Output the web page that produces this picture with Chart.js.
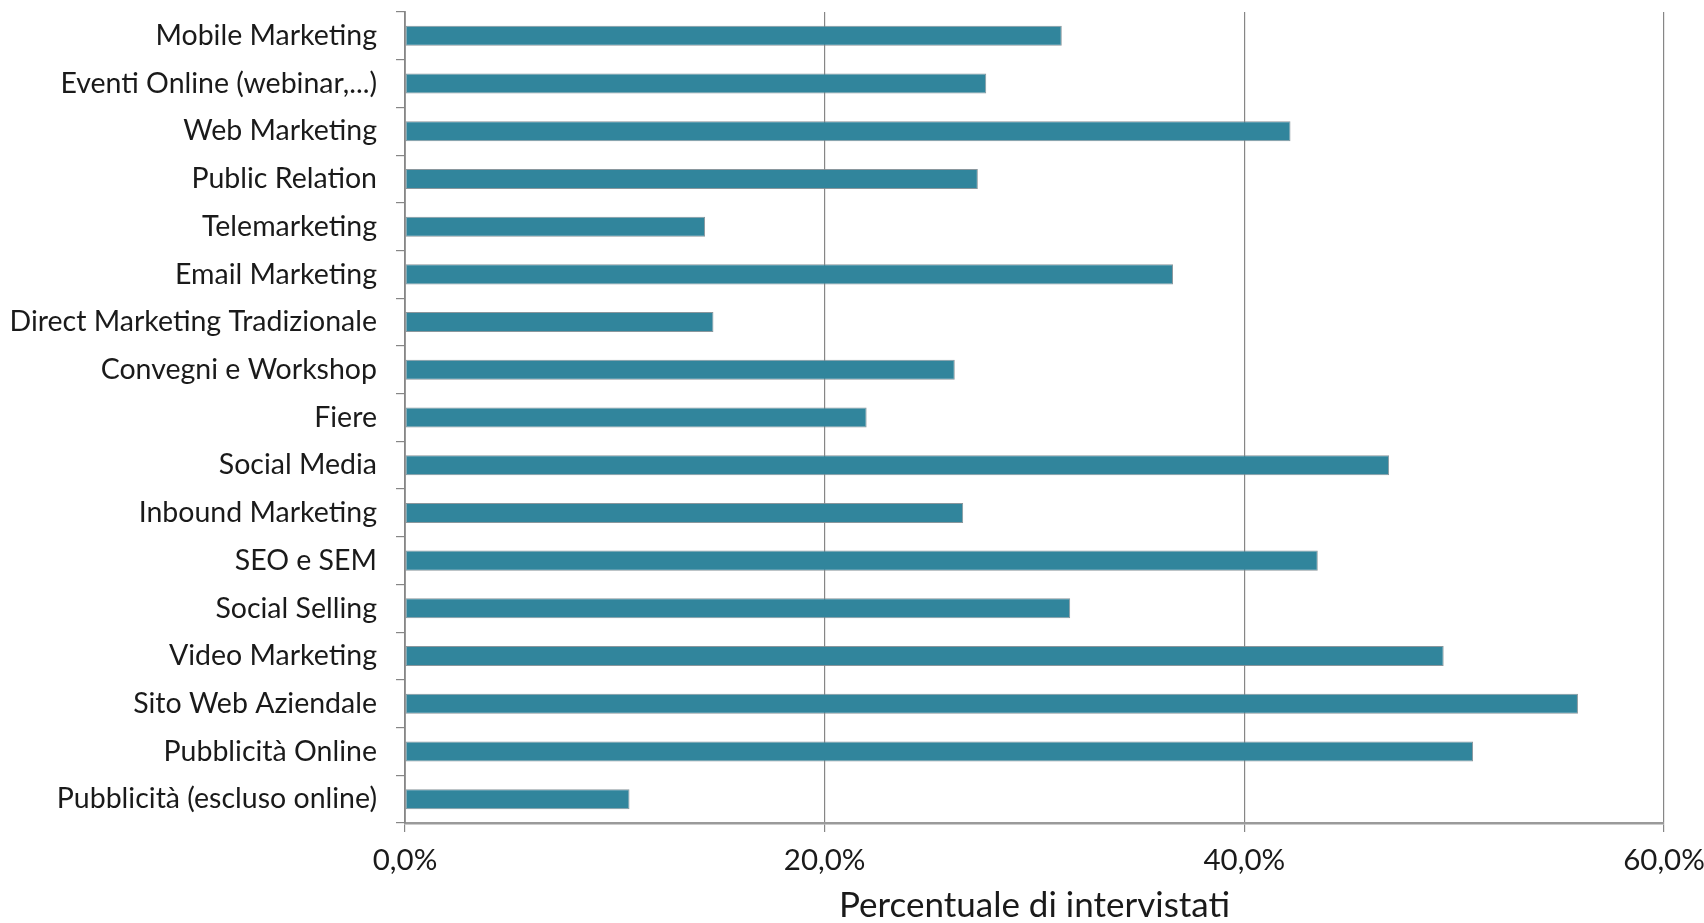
<!DOCTYPE html>
<html>
<head>
<meta charset="utf-8">
<script src="https://cdn.jsdelivr.net/npm/chart.js@4/dist/chart.umd.min.js"></script>
<style>
  html, body { margin: 0; padding: 0; background: #ffffff; }
  #wrap { width: 1704px; height: 923px; }
</style>
</head>
<body>
<div id="wrap"><canvas id="chart" width="1704" height="923"></canvas></div>
<script>
// Marketing channels, listed top to bottom
const categories = [
  'Mobile Marketing',
  'Eventi Online (webinar,...)',
  'Web Marketing',
  'Public Relation',
  'Telemarketing',
  'Email Marketing',
  'Direct Marketing Tradizionale',
  'Convegni e Workshop',
  'Fiere',
  'Social Media',
  'Inbound Marketing',
  'SEO e SEM',
  'Social Selling',
  'Video Marketing',
  'Sito Web Aziendale',
  'Pubblicità Online',
  'Pubblicità (escluso online)'
];

// Share of respondents (%)
const percentuali = [
  31.3, 27.7, 42.2, 27.3, 14.3, 36.6, 14.7, 26.2, 22.0,
  46.9, 26.6, 43.5, 31.7, 49.5, 55.9, 50.9, 10.7
];

const xTicks = [0, 20, 40, 60];
const axisTitle = 'Percentuale di intervistati';

const FONT = 'Lato, "Open Sans", sans-serif';
const TEXT = '#1a1a1a';
const GRID = '#868686';

new Chart(document.getElementById('chart'), {
  type: 'bar',
  data: {
    labels: categories,
    datasets: [{
      data: percentuali,
      backgroundColor: '#31859C',
      borderColor: 'rgba(125,140,146,0.9)',
      borderWidth: 1,
      borderSkipped: false,
      barPercentage: 0.42,
      categoryPercentage: 1.0
    }]
  },
  options: {
    indexAxis: 'y',
    responsive: false,
    animation: false,
    layout: { padding: { top: 12, right: 40, bottom: 0, left: 0 } },
    plugins: {
      legend: { display: false },
      tooltip: { enabled: false }
    },
    scales: {
      x: {
        min: 0,
        max: 60,
        afterBuildTicks: (axis) => { axis.ticks = xTicks.map(v => ({ value: v })); },
        afterFit: (axis) => {
          axis.height = 100;
          axis.paddingLeft = 0;
          axis.paddingRight = 0;
        },
        ticks: {
          color: TEXT,
          font: { family: FONT, size: 29.5 },
          padding: 11,
          callback: (v) => v.toFixed(1).replace('.', ',') + '%'
        },
        grid: {
          color: GRID,
          lineWidth: 1.2,
          tickLength: 9,
          drawOnChartArea: true,
          drawTicks: true
        },
        border: { display: true, color: '#9a9a9a', width: 2.5 },
        title: {
          display: true,
          text: axisTitle,
          color: TEXT,
          font: { family: FONT, size: 35, lineHeight: 1.0 },
          padding: { top: 0, bottom: 0 }
        }
      },
      y: {
        afterFit: (axis) => {
          axis.width = 405;
          axis.paddingTop = 0;
          axis.paddingBottom = 0;
        },
        ticks: {
          color: TEXT,
          font: { family: FONT, size: 28.5 },
          padding: 19
        },
        grid: {
          offset: true,
          color: GRID,
          lineWidth: 1.2,
          tickLength: 9,
          drawOnChartArea: false,
          drawTicks: true
        },
        border: { display: true, color: GRID, width: 1.8 }
      }
    }
  }
});
</script>
</body>
</html>
